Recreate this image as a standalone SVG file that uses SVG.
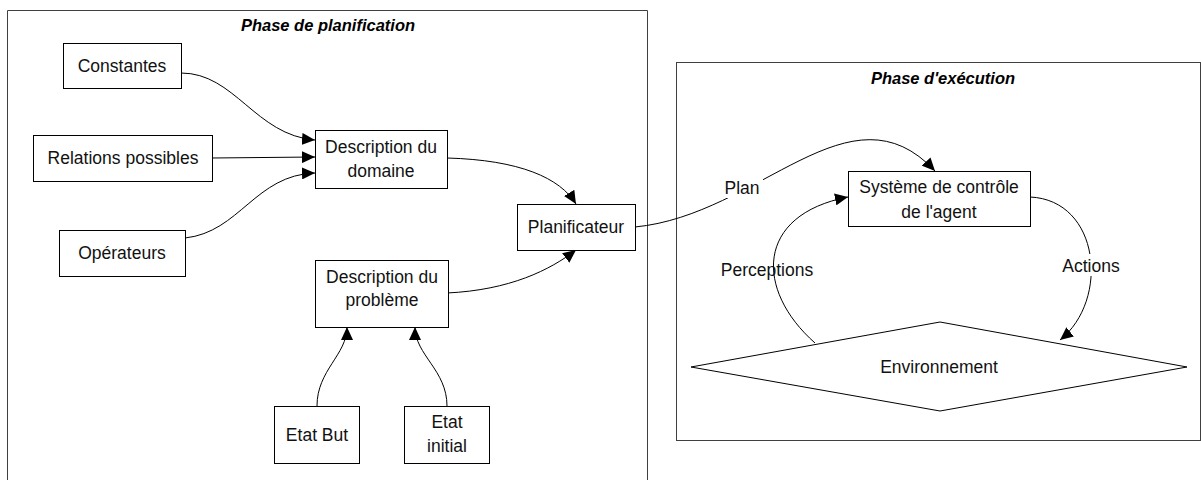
<svg xmlns="http://www.w3.org/2000/svg" width="1201" height="480" viewBox="0 0 1201 480">
  <style>
    .frame { fill: none; stroke: #404040; stroke-width: 1; }
    .box { fill: #fff; stroke: #000; stroke-width: 1; }
    .lbl { font-family: "Liberation Sans", Arial, sans-serif; font-size: 17.5px; fill: #111; text-anchor: middle; }
    .title { font-family: "Liberation Sans", Arial, sans-serif; font-size: 16.5px; font-weight: bold; font-style: italic; fill: #000; text-anchor: middle; }
    .edge { fill: none; stroke: #000; stroke-width: 1; }
    .bg { fill: #fff; stroke: none; }
  </style>
  <defs>
    <marker id="arrow" markerUnits="userSpaceOnUse" markerWidth="14" markerHeight="12" refX="13" refY="6" orient="auto">
      <path d="M0,0 L13,6 L0,12 z" fill="#000"/>
    </marker>
  </defs>
  <rect width="1201" height="480" fill="#fff"/>

  <!-- phase frames -->
  <g id="phase-planification">
    <path class="frame" d="M7.5,481 V10.5 H647.5 V481"/>
    <text class="title" x="328" y="31">Phase de planification</text>
  </g>
  <g id="phase-execution">
    <rect class="frame" x="676.5" y="62.5" width="524" height="378"/>
    <text class="title" x="943" y="84">Phase d'exécution</text>
  </g>

  <!-- connectors -->
  <g id="connectors">
    <path class="edge" marker-end="url(#arrow)" d="M181,73 C235,73 255,135 315,140"/>
    <path class="edge" marker-end="url(#arrow)" d="M212,158 L315,157"/>
    <path class="edge" marker-end="url(#arrow)" d="M185,238 C240,232 255,175 315,173"/>
    <path class="edge" marker-end="url(#arrow)" d="M447,158 C520,160 560,178 576,204"/>
    <path class="edge" marker-end="url(#arrow)" d="M447,293 C510,290 550,270 576,250"/>
    <path class="edge" marker-end="url(#arrow)" d="M317,406 C317,370 347,355 347,327"/>
    <path class="edge" marker-end="url(#arrow)" d="M447,406 C447,370 415,355 415,327"/>
    <path class="edge" marker-end="url(#arrow)" d="M635,227 C760,215 850,80 935,171"/>
    <path class="edge" marker-end="url(#arrow)" d="M815,343 C755,290 755,215 848,197"/>
    <path class="edge" marker-end="url(#arrow)" d="M1030,197 C1100,200 1110,300 1060,340"/>
    <rect class="bg" x="721" y="176" width="42" height="22"/>
    <text class="lbl" x="742" y="194">Plan</text>
    <text class="lbl" x="767" y="276">Perceptions</text>
    <rect class="bg" x="1061" y="254" width="60" height="22"/>
    <text class="lbl" x="1091" y="272">Actions</text>
  </g>

  <!-- nodes -->
  <g id="constantes">
    <rect class="box" x="63.5" y="43.5" width="118" height="45"/>
    <text class="lbl" x="122" y="72">Constantes</text>
  </g>
  <g id="relations-possibles">
    <rect class="box" x="33.5" y="135.5" width="179" height="46"/>
    <text class="lbl" x="123" y="164">Relations possibles</text>
  </g>
  <g id="operateurs">
    <rect class="box" x="59.5" y="230.5" width="126" height="46"/>
    <text class="lbl" x="122" y="259">Opérateurs</text>
  </g>
  <g id="description-domaine">
    <rect class="box" x="315.5" y="130.5" width="132" height="58"/>
    <text class="lbl" x="381" y="153">Description du</text>
    <text class="lbl" x="381" y="177">domaine</text>
  </g>
  <g id="planificateur">
    <rect class="box" x="517.5" y="204.5" width="118" height="46"/>
    <text class="lbl" x="576" y="233">Planificateur</text>
  </g>
  <g id="description-probleme">
    <rect class="box" x="315.5" y="260.5" width="133" height="67"/>
    <text class="lbl" x="382" y="283">Description du</text>
    <text class="lbl" x="382" y="306">problème</text>
  </g>
  <g id="etat-but">
    <rect class="box" x="274.5" y="406.5" width="85" height="57"/>
    <text class="lbl" x="317" y="441">Etat But</text>
  </g>
  <g id="etat-initial">
    <rect class="box" x="404.5" y="406.5" width="85" height="57"/>
    <text class="lbl" x="447" y="428">Etat</text>
    <text class="lbl" x="447" y="452">initial</text>
  </g>
  <g id="systeme-controle">
    <rect class="box" x="848.5" y="171.5" width="182" height="55"/>
    <text class="lbl" x="939" y="193">Système de contrôle</text>
    <text class="lbl" x="939" y="218">de l'agent</text>
  </g>
  <g id="environnement">
    <polygon class="box" points="691,367 940,322 1187,367 940,411"/>
    <text class="lbl" x="939" y="373">Environnement</text>
  </g>
</svg>
